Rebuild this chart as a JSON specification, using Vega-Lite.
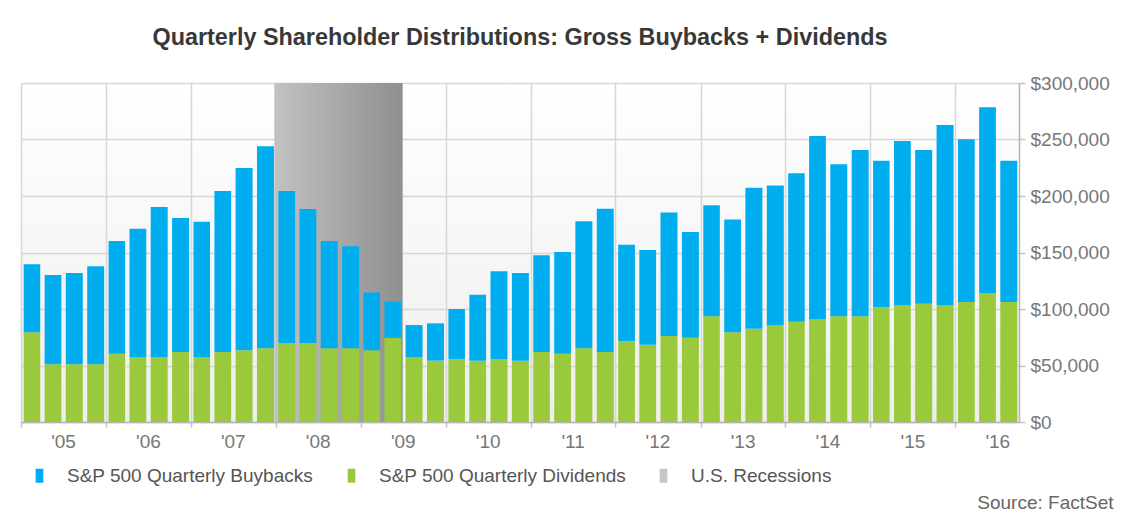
{
  "$schema": "https://vega.github.io/schema/vega-lite/v6.json",
  "width": 998,
  "height": 339,
  "padding": {"left": 20, "top": 25, "right": 5, "bottom": 5},
  "background": "white",
  "title": {
    "text": "Quarterly Shareholder Distributions: Gross Buybacks + Dividends",
    "font": "Liberation Sans",
    "fontSize": 23.4,
    "fontWeight": "bold",
    "color": "#383838",
    "anchor": "middle",
    "offset": 24
  },
  "datasets": {
    "quarters": [
      {"date": "2005-01-01", "dividends": 79400, "buybacks": 60100},
      {"date": "2005-04-01", "dividends": 51000, "buybacks": 79000},
      {"date": "2005-07-01", "dividends": 51000, "buybacks": 80900},
      {"date": "2005-10-01", "dividends": 51000, "buybacks": 86800},
      {"date": "2006-01-01", "dividends": 60500, "buybacks": 99700},
      {"date": "2006-04-01", "dividends": 57500, "buybacks": 113600},
      {"date": "2006-07-01", "dividends": 57500, "buybacks": 132800},
      {"date": "2006-10-01", "dividends": 62000, "buybacks": 118500},
      {"date": "2007-01-01", "dividends": 57500, "buybacks": 119800},
      {"date": "2007-04-01", "dividends": 62000, "buybacks": 142400},
      {"date": "2007-07-01", "dividends": 63400, "buybacks": 161400},
      {"date": "2007-10-01", "dividends": 65200, "buybacks": 178800},
      {"date": "2008-01-01", "dividends": 69900, "buybacks": 134500},
      {"date": "2008-04-01", "dividends": 69900, "buybacks": 118600},
      {"date": "2008-07-01", "dividends": 65200, "buybacks": 95000},
      {"date": "2008-10-01", "dividends": 65200, "buybacks": 90300},
      {"date": "2009-01-01", "dividends": 63400, "buybacks": 51100},
      {"date": "2009-04-01", "dividends": 74600, "buybacks": 31900},
      {"date": "2009-07-01", "dividends": 57500, "buybacks": 28300},
      {"date": "2009-10-01", "dividends": 54300, "buybacks": 33000},
      {"date": "2010-01-01", "dividends": 55800, "buybacks": 44200},
      {"date": "2010-04-01", "dividends": 54300, "buybacks": 58400},
      {"date": "2010-07-01", "dividends": 55800, "buybacks": 77500},
      {"date": "2010-10-01", "dividends": 54300, "buybacks": 77600},
      {"date": "2011-01-01", "dividends": 62000, "buybacks": 85500},
      {"date": "2011-04-01", "dividends": 60500, "buybacks": 90000},
      {"date": "2011-07-01", "dividends": 65200, "buybacks": 112400},
      {"date": "2011-10-01", "dividends": 62000, "buybacks": 126800},
      {"date": "2012-01-01", "dividends": 71400, "buybacks": 85500},
      {"date": "2012-04-01", "dividends": 68400, "buybacks": 83800},
      {"date": "2012-07-01", "dividends": 76100, "buybacks": 109200},
      {"date": "2012-10-01", "dividends": 74600, "buybacks": 93600},
      {"date": "2013-01-01", "dividends": 93500, "buybacks": 98300},
      {"date": "2013-04-01", "dividends": 79400, "buybacks": 99700},
      {"date": "2013-07-01", "dividends": 82600, "buybacks": 124800},
      {"date": "2013-10-01", "dividends": 85800, "buybacks": 123400},
      {"date": "2014-01-01", "dividends": 88800, "buybacks": 131300},
      {"date": "2014-04-01", "dividends": 90600, "buybacks": 162500},
      {"date": "2014-07-01", "dividends": 93500, "buybacks": 134500},
      {"date": "2014-10-01", "dividends": 93500, "buybacks": 147200},
      {"date": "2015-01-01", "dividends": 101500, "buybacks": 129800},
      {"date": "2015-04-01", "dividends": 103000, "buybacks": 145700},
      {"date": "2015-07-01", "dividends": 104700, "buybacks": 136000},
      {"date": "2015-10-01", "dividends": 103000, "buybacks": 159800},
      {"date": "2016-01-01", "dividends": 106200, "buybacks": 144000},
      {"date": "2016-04-01", "dividends": 114200, "buybacks": 164300},
      {"date": "2016-07-01", "dividends": 106200, "buybacks": 125100}
    ],
    "recessions": [
      {"start": "2007-12-26", "end": "2009-06-30", "name": "recession"}
    ]
  },
  "config": {
    "font": "Liberation Sans",
    "view": {
      "stroke": null,
      "fill": {
        "gradient": "linear",
        "x1": 0, "y1": 0, "x2": 0, "y2": 1,
        "stops": [
          {"offset": 0, "color": "#ffffff"},
          {"offset": 1, "color": "#eeeeee"}
        ]
      }
    },
    "axis": {
      "gridColor": "#d6d6d6",
      "gridWidth": 1.5,
      "domainColor": "#b4b4b4",
      "domainWidth": 1.5,
      "tickColor": "#c4c4c4",
      "tickWidth": 1.5,
      "labelColor": "#777777",
      "labelFont": "Liberation Sans",
      "labelFontSize": 19
    }
  },
  "layer": [
    {
      "data": {"name": "recessions"},
      "mark": {
        "type": "rect",
        "color": {
          "gradient": "linear",
          "x1": 0, "y1": 0, "x2": 1, "y2": 0,
          "stops": [
            {"offset": 0, "color": "#c2c2c2"},
            {"offset": 1, "color": "#8f8f8f"}
          ]
        }
      },
      "encoding": {
        "x": {"field": "start", "type": "temporal"},
        "x2": {"field": "end"}
      }
    },
    {
      "data": {"name": "quarters"},
      "transform": [
        {"fold": ["dividends", "buybacks"], "as": ["series", "value"]}
      ],
      "mark": {"type": "bar", "binSpacing": 4.4},
      "encoding": {
        "x": {
          "field": "date",
          "timeUnit": "utcyearquarter",
          "type": "temporal",
          "scale": {
            "type": "utc",
            "domain": [
              {"year": 2005, "month": 1, "date": 1, "utc": true},
              {"year": 2016, "month": 10, "date": 1, "utc": true}
            ]
          },
          "axis": {
            "title": "Source: FactSet",
            "titleFont": "Liberation Sans",
            "titleFontSize": 19,
            "titleFontWeight": "normal",
            "titleColor": "#666666",
            "titleAlign": "right",
            "titleBaseline": "alphabetic",
            "titleX": 1092,
            "titleY": 86,
            "tickCount": {"interval": "year", "step": 1},
            "format": "'%y",
            "labelOffset": 42,
            "labelFlush": false,
            "labelOverlap": false,
            "tickSize": 5,
            "labelPadding": 5,
            "grid": true
          }
        },
        "y": {
          "field": "value",
          "type": "quantitative",
          "stack": "zero",
          "scale": {"domain": [0, 300000], "nice": false},
          "axis": {
            "orient": "right",
            "title": null,
            "values": [0, 50000, 100000, 150000, 200000, 250000, 300000],
            "format": "$,.0f",
            "tickSize": 6,
            "labelPadding": 5,
            "grid": true
          }
        },
        "color": {
          "field": "series",
          "type": "nominal",
          "scale": {
            "domain": ["buybacks", "dividends", "recession"],
            "range": ["#00aeef", "#9aca3c", "#c6c6c6"]
          },
          "legend": {
            "orient": "none",
            "legendX": 9,
            "legendY": 383,
            "direction": "horizontal",
            "columns": 3,
            "gridAlign": "all",
            "title": null,
            "padding": 0,
            "symbolType": "M-0.55,-1H0.55V1H-0.55Z",
            "symbolSize": 196,
            "symbolStrokeWidth": 0,
            "labelFont": "Liberation Sans",
            "labelFontSize": 19,
            "labelColor": "#555555",
            "labelOffset": 18,
            "columnPadding": 27,
            "labelLimit": 400,
            "labelExpr": "datum.label == 'buybacks' ? 'S&P 500 Quarterly Buybacks' : datum.label == 'dividends' ? 'S&P 500 Quarterly Dividends' : 'U.S. Recessions'"
          }
        },
        "order": {"field": "series", "sort": "descending"}
      }
    }
  ]
}
